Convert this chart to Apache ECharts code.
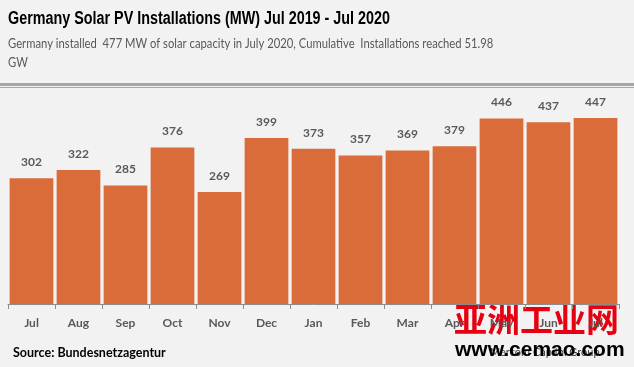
<!DOCTYPE html>
<html><head><meta charset="utf-8">
<script src="https://cdn.jsdelivr.net/npm/echarts@6/dist/echarts.min.js"></script>
<style>html,body{margin:0;padding:0;background:#f2f2f2}#c{width:634px;height:367px}</style>
</head><body><div id="c"></div>
<script>
const categories = ['Jul','Aug','Sep','Oct','Nov','Dec','Jan','Feb','Mar','Apr','May','Jun','Jul'];
const installationsMW = [302,322,285,376,269,399,373,357,369,379,446,437,447];
const titleText = 'Germany Solar PV Installations (MW) Jul 2019 - Jul 2020';
const subtitleLine1 = 'Germany installed  477 MW of solar capacity in July 2020, Cumulative  Installations reached 51.98';
const subtitleLine2 = 'GW';
const sourceText = 'Source: Bundesnetzagentur';

const chart = echarts.init(document.getElementById('c'));
chart.setOption({
  backgroundColor: '#f2f2f2',
  animation: false,
  grid: {left: 8, right: 15, top: 96, bottom: 63},
  xAxis: {
    type: 'category', data: categories,
    axisLine: {lineStyle: {color: '#8c8c8c', width: 1}},
    axisTick: {show: true, length: 5, lineStyle: {color: '#8c8c8c'}},
    axisLabel: {color: '#595959', fontWeight: 'bold', fontSize: 12, fontFamily: 'Lato', margin: 13}
  },
  yAxis: {type: 'value', min: 0, max: 500, show: false, splitLine: {show: false}},
  series: [{
    type: 'bar', data: installationsMW, barCategoryGap: '7%',
    itemStyle: {color: '#d96c39'},
    label: {show: true, position: 'top', distance: 10, color: '#595959', fontWeight: 'bold', fontSize: 12, fontFamily: 'Lato'}
  }],
  graphic: [
    {type: 'text', x: 8, y: 10, scaleX: 0.82, originX: 0, style: {text: titleText, fill: '#000', font: 'bold 17.5px "Liberation Sans"'}},
    {type: 'text', x: 8, y: 37, scaleX: 0.865, originX: 0, style: {text: subtitleLine1, fill: '#595959', font: '13px Lato'}},
    {type: 'text', x: 8, y: 56, scaleX: 0.865, originX: 0, style: {text: subtitleLine2, fill: '#595959', font: '13px Lato'}},
    {type: 'rect', shape: {x: 0, y: 83, width: 634, height: 3}, style: {fill: '#a6a6a6'}},
    {type: 'rect', shape: {x: 0, y: 87, width: 634, height: 1}, style: {fill: '#a6a6a6'}},
    {type: 'text', left: 13, top: 346, style: {text: sourceText, fill: '#000', font: 'bold 12.5px Lato'}},
    {type: 'text', left: 490, top: 347, style: {text: 'Mercom Capital Group', fill: '#404040', font: '11px Lato'}},
    {type: 'text', left: 454, top: 303, style: {text: '亚洲工业网', fill: '#e60012', font: 'bold 33px "Noto Sans CJK SC"'}},
    {type: 'text', left: 455, top: 340, style: {text: 'www.cemao.com', fill: '#000', font: 'bold 21px "Liberation Sans"'}}
  ]
});
</script></body></html>
